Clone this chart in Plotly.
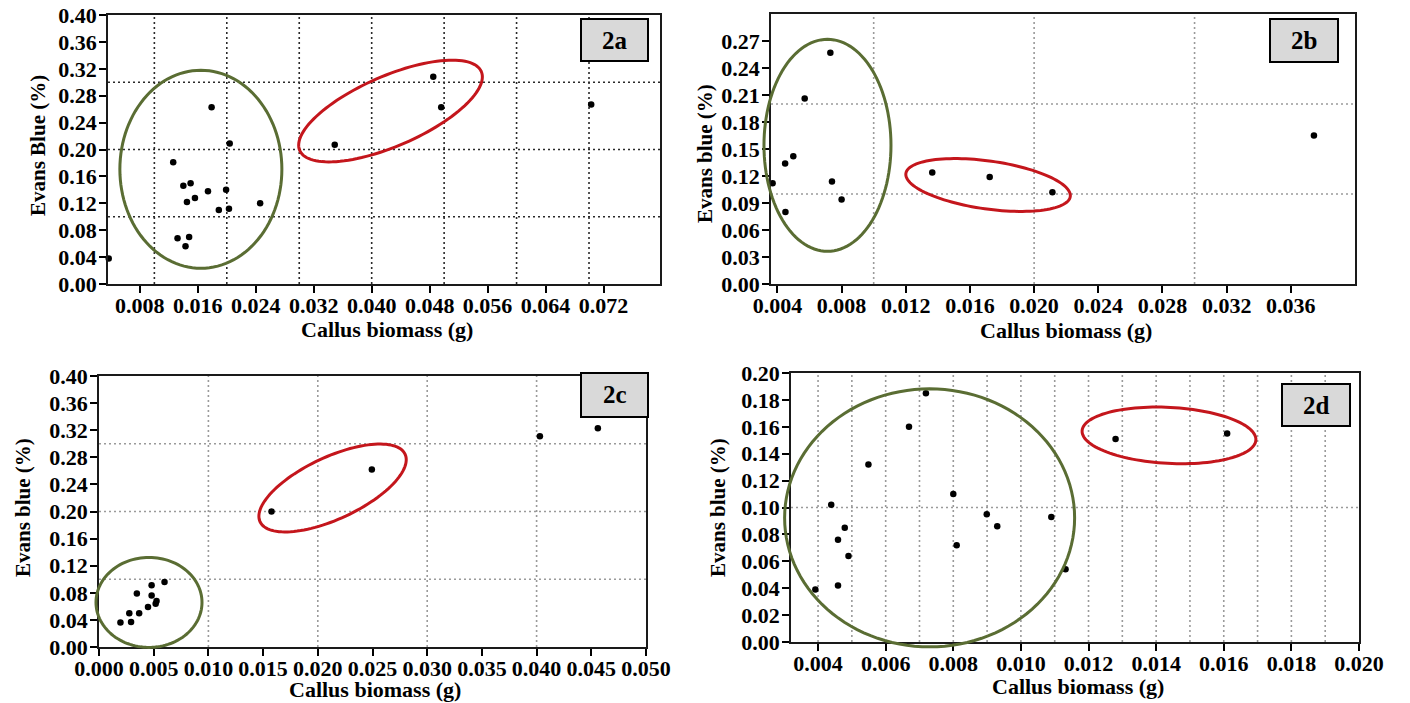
import math
import plotly.graph_objects as go

W, H = 1410, 703
FONT = "Liberation Serif"
GREEN = "#5a6d33"
RED = "#c4161c"

# ---------------- data ----------------
A_X = [0.0037, 0.0179, 0.0204, 0.0126, 0.0140, 0.0150, 0.0145, 0.0156, 0.0174, 0.0199,
       0.0189, 0.0203, 0.0246, 0.0132, 0.0148, 0.0143, 0.0349, 0.0485, 0.0496, 0.0703]
A_Y = [0.038, 0.263, 0.209, 0.181, 0.146, 0.150, 0.122, 0.128, 0.138, 0.140,
       0.110, 0.112, 0.120, 0.068, 0.070, 0.056, 0.207, 0.308, 0.263, 0.267]

B_X = [0.0037, 0.00448, 0.00499, 0.0045, 0.0057, 0.0073, 0.0074, 0.0080, 0.01365, 0.01723, 0.02114, 0.03744]
B_Y = [0.112, 0.134, 0.142, 0.080, 0.206, 0.257, 0.114, 0.094, 0.124, 0.119, 0.102, 0.165]

C_X = [0.00196, 0.00293, 0.00277, 0.00367, 0.00346, 0.00448, 0.00481, 0.00481, 0.00518, 0.00526,
       0.00599, 0.01577, 0.02494, 0.0403, 0.0456]
C_Y = [0.036, 0.037, 0.050, 0.050, 0.079, 0.059, 0.076, 0.091, 0.064, 0.068,
       0.096, 0.200, 0.262, 0.311, 0.323]

D_X = [0.00317, 0.00392, 0.00439, 0.00459, 0.00459, 0.00479, 0.0049, 0.00549, 0.00669, 0.00719,
       0.0080, 0.0081, 0.00899, 0.0093, 0.0109, 0.01132, 0.0128, 0.0161]
D_Y = [0.098, 0.039, 0.102, 0.076, 0.042, 0.085, 0.064, 0.132, 0.160, 0.185,
       0.110, 0.072, 0.095, 0.086, 0.093, 0.054, 0.151, 0.155]

# tick labels
A_XTICKS = [0.008, 0.016, 0.024, 0.032, 0.040, 0.048, 0.056, 0.064, 0.072]
A_YTICKS = [0.00, 0.04, 0.08, 0.12, 0.16, 0.20, 0.24, 0.28, 0.32, 0.36, 0.40]
B_XTICKS = [0.004, 0.008, 0.012, 0.016, 0.020, 0.024, 0.028, 0.032, 0.036]
B_YTICKS = [0.00, 0.03, 0.06, 0.09, 0.12, 0.15, 0.18, 0.21, 0.24, 0.27]
C_XTICKS = [0.000, 0.005, 0.010, 0.015, 0.020, 0.025, 0.030, 0.035, 0.040, 0.045, 0.050]
C_YTICKS = A_YTICKS
D_XTICKS = [0.004, 0.006, 0.008, 0.010, 0.012, 0.014, 0.016, 0.018, 0.020]
D_YTICKS = [0.00, 0.02, 0.04, 0.06, 0.08, 0.10, 0.12, 0.14, 0.16, 0.18, 0.20]

# grid values
A_XGRID = [0.01, 0.02, 0.03, 0.04, 0.05, 0.06, 0.07]
A_YGRID = [0.1, 0.2, 0.3]
B_XGRID = [0.01, 0.02, 0.03]
B_YGRID = [0.1, 0.2]
C_XGRID = [0.01, 0.02, 0.03, 0.04]
C_YGRID = [0.1, 0.2, 0.3]
D_XGRID = [0.004, 0.005, 0.006, 0.007, 0.008, 0.009, 0.010, 0.011, 0.012, 0.013,
           0.014, 0.015, 0.016, 0.017, 0.018, 0.019]
D_YGRID = [0.1]

XTITLE = "Callus biomass (g)"

panels = [
    dict(name="2a", x=A_X, y=A_Y, xt=A_XTICKS, yt=A_YTICKS, xg=A_XGRID, yg=A_YGRID,
         px=(108, 660), py=(15, 284), xr=(0.0036, 0.0798), yr=(0, 0.40),
         ytitle="Evans Blue (%)", ytpos=(38, 146), xtpos=(387, 329),
         box=(581, 19, 648, 61), gridcolor="#2a2a2a",
         ellipses=[(0.01642, 0.1706, 81, 99, 0, GREEN), (0.0426, 0.2572, 99, 35, 23.5, RED)]),
    dict(name="2b", x=B_X, y=B_Y, xt=B_XTICKS, yt=B_YTICKS, xg=B_XGRID, yg=B_YGRID,
         px=(771, 1355), py=(14, 284), xr=(0.0036, 0.0400), yr=(0, 0.30),
         ytitle="Evans blue (%)", ytpos=(705, 154), xtpos=(1066, 330),
         box=(1270, 19, 1338, 62), gridcolor="#9a9a9a",
         ellipses=[(0.00712, 0.1541, 63.5, 106, 0, GREEN), (0.01713, 0.110, 83, 24, -8, RED)]),
    dict(name="2c", x=C_X, y=C_Y, xt=C_XTICKS, yt=C_YTICKS, xg=C_XGRID, yg=C_YGRID,
         px=(99, 646), py=(376, 647), xr=(0.0, 0.050), yr=(0, 0.40),
         ytitle="Evans blue (%)", ytpos=(23, 508), xtpos=(375, 689),
         box=(581, 373, 648, 417), gridcolor="#9a9a9a",
         ellipses=[(0.00457, 0.0658, 53, 45, 0, GREEN), (0.02135, 0.2347, 80, 31, 25, RED)]),
    dict(name="2d", x=D_X, y=D_Y, xt=D_XTICKS, yt=D_YTICKS, xg=D_XGRID, yg=D_YGRID,
         px=(791, 1359), py=(373, 642), xr=(0.0032, 0.0200), yr=(0, 0.20),
         ytitle="Evans blue (%)", ytpos=(718, 507), xtpos=(1078, 686),
         box=(1282, 384, 1350, 426), gridcolor="#9a9a9a",
         ellipses=[(0.0073, 0.0923, 145, 129, 0, GREEN), (0.01438, 0.1536, 87, 28, -3, RED)]),
]

fig = go.Figure()
shapes = []
annotations = []
layout = dict(width=W, height=H, margin=dict(l=0, r=0, t=0, b=0),
              paper_bgcolor="white", plot_bgcolor="white", showlegend=False)

tickfont = dict(family=FONT, size=22, color="black", weight="bold")

for i, p in enumerate(panels):
    n = "" if i == 0 else str(i + 1)
    xa, ya = "x" + n, "y" + n
    fig.add_trace(go.Scatter(x=p["x"], y=p["y"], mode="markers", xaxis=xa, yaxis=ya,
                             marker=dict(color="black", size=6.5), cliponaxis=False,
                             hoverinfo="skip"))
    xdom = [p["px"][0] / W, p["px"][1] / W]
    ydom = [1 - p["py"][1] / H, 1 - p["py"][0] / H]
    axcommon = dict(showline=True, linecolor="#1a1a1a", linewidth=1.8, mirror=True,
                    ticks="outside", ticklen=7, tickwidth=1.8, tickcolor="black",
                    showgrid=False, zeroline=False, tickfont=tickfont, automargin=False)
    layout["xaxis" + n] = dict(domain=xdom, range=list(p["xr"]), anchor=ya,
                               tickvals=p["xt"], tickformat=".3f", ticklabelstandoff=-6,
                               **axcommon)
    layout["yaxis" + n] = dict(domain=ydom, range=list(p["yr"]), anchor=xa,
                               tickvals=p["yt"], tickformat=".2f", ticklabelstandoff=-2,
                               **axcommon)

    dash = "2px,3px"
    for g in p["xg"]:
        shapes.append(dict(type="line", xref=xa, yref=ya + " domain", x0=g, x1=g, y0=0, y1=1,
                           line=dict(color=p["gridcolor"], width=1.6, dash=dash), layer="below"))
    for g in p["yg"]:
        shapes.append(dict(type="line", xref=xa + " domain", yref=ya, x0=0, x1=1, y0=g, y1=g,
                           line=dict(color=p["gridcolor"], width=1.6, dash=dash), layer="below"))

    # ellipses (center in data units, radii in pixels, rotation in degrees)
    def to_px(dx, dy, p=p):
        X = p["px"][0] + (dx - p["xr"][0]) / (p["xr"][1] - p["xr"][0]) * (p["px"][1] - p["px"][0])
        Y = p["py"][1] - (dy - p["yr"][0]) / (p["yr"][1] - p["yr"][0]) * (p["py"][1] - p["py"][0])
        return X, Y
    for (cx, cy, a, b, ang, col) in p["ellipses"]:
        CX, CY = to_px(cx, cy)
        th = math.radians(ang)
        pts = []
        for k in range(121):
            t = 2 * math.pi * k / 120
            ex = a * math.cos(t) * math.cos(th) - b * math.sin(t) * math.sin(th)
            ey = a * math.cos(t) * math.sin(th) + b * math.sin(t) * math.cos(th)
            X, Y = CX + ex, CY - ey
            pts.append(f"{X / W:.5f},{1 - Y / H:.5f}")
        path = "M " + " L ".join(pts) + " Z"
        shapes.append(dict(type="path", xref="paper", yref="paper", path=path,
                           line=dict(color=col, width=3), layer="above"))

    # label box
    x0, y0, x1, y1 = p["box"]
    shapes.append(dict(type="rect", xref="paper", yref="paper",
                       x0=x0 / W, x1=x1 / W, y0=1 - y1 / H, y1=1 - y0 / H,
                       fillcolor="#d9d9d9", line=dict(color="black", width=2), layer="above"))
    annotations.append(dict(xref="paper", yref="paper", x=(x0 + x1) / 2 / W, y=1 - (y0 + y1) / 2 / H,
                            text=p["name"], showarrow=False, xanchor="center", yanchor="middle",
                            font=dict(family=FONT, size=25, color="black", weight="bold")))
    # axis titles
    annotations.append(dict(xref="paper", yref="paper", x=p["xtpos"][0] / W, y=1 - p["xtpos"][1] / H,
                            text=XTITLE, showarrow=False, xanchor="center", yanchor="middle",
                            font=dict(family=FONT, size=22, color="black", weight="bold")))
    annotations.append(dict(xref="paper", yref="paper", x=p["ytpos"][0] / W, y=1 - p["ytpos"][1] / H,
                            text=p["ytitle"], showarrow=False, xanchor="center", yanchor="middle",
                            textangle=-90,
                            font=dict(family=FONT, size=21, color="black", weight="bold")))

layout["shapes"] = shapes
layout["annotations"] = annotations
fig.update_layout(**layout)
fig.write_html("out.html", config={"displayModeBar": False},
               post_script="document.body.style.margin='0';")
